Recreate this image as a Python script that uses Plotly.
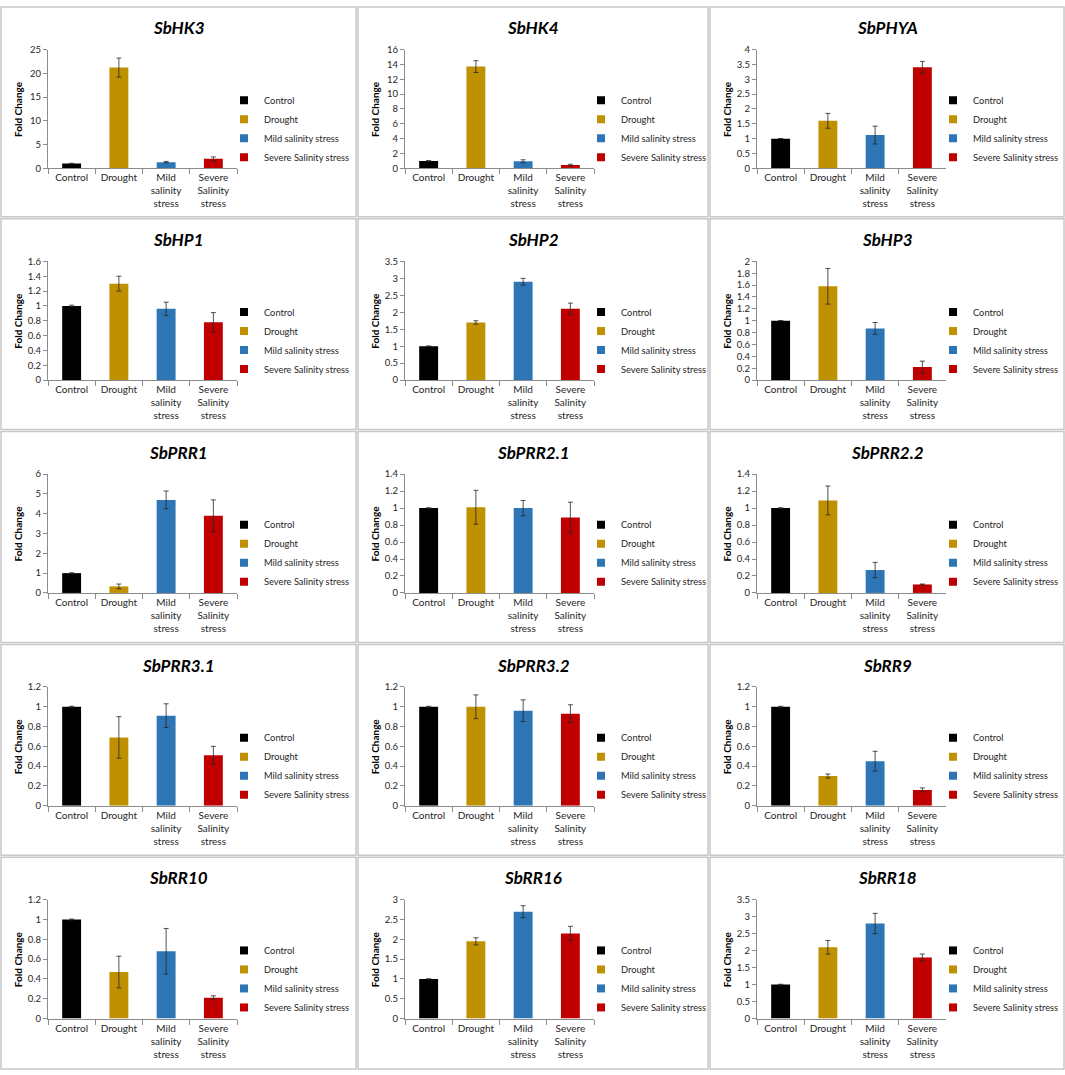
import plotly.graph_objects as go

W, H = 1065, 1075

categories = ["Control", "Drought", "Mild<br>salinity<br>stress", "Severe<br>Salinity<br>stress"]
treatments = ["Control", "Drought", "Mild salinity stress", "Severe Salinity stress"]
colors = ["#000000", "#BF9000", "#2E75B6", "#C00000"]

genes = ["SbHK3", "SbHK4", "SbPHYA",
         "SbHP1", "SbHP2", "SbHP3",
         "SbPRR1", "SbPRR2.1", "SbPRR2.2",
         "SbPRR3.1", "SbPRR3.2", "SbRR9",
         "SbRR10", "SbRR16", "SbRR18"]

# fold change per treatment (Control, Drought, Mild, Severe) and error bars
sbhk3 = [1.0, 21.2, 1.3, 2.0]
sbhk3_err = [0.05, 2.0, 0.15, 0.4]
sbhk4 = [1.0, 13.7, 0.95, 0.45]
sbhk4_err = [0.03, 0.8, 0.2, 0.1]
sbphya = [1.0, 1.6, 1.12, 3.4]
sbphya_err = [0.0, 0.25, 0.3, 0.2]
sbhp1 = [1.0, 1.3, 0.96, 0.78]
sbhp1_err = [0.01, 0.1, 0.09, 0.13]
sbhp2 = [1.0, 1.7, 2.9, 2.1]
sbhp2_err = [0.01, 0.05, 0.1, 0.17]
sbhp3 = [1.0, 1.58, 0.87, 0.22]
sbhp3_err = [0.0, 0.3, 0.1, 0.1]
sbprr1 = [1.0, 0.33, 4.7, 3.9]
sbprr1_err = [0.02, 0.12, 0.45, 0.8]
sbprr2_1 = [1.0, 1.01, 1.0, 0.89]
sbprr2_1_err = [0.005, 0.2, 0.09, 0.18]
sbprr2_2 = [1.0, 1.09, 0.27, 0.1]
sbprr2_2_err = [0.005, 0.17, 0.09, 0.005]
sbprr3_1 = [1.0, 0.69, 0.91, 0.51]
sbprr3_1_err = [0.005, 0.21, 0.12, 0.09]
sbprr3_2 = [1.0, 1.0, 0.96, 0.93]
sbprr3_2_err = [0.005, 0.12, 0.11, 0.09]
sbrr9 = [1.0, 0.3, 0.45, 0.16]
sbrr9_err = [0.005, 0.02, 0.1, 0.02]
sbrr10 = [1.0, 0.47, 0.68, 0.21]
sbrr10_err = [0.005, 0.16, 0.23, 0.02]
sbrr16 = [1.0, 1.95, 2.7, 2.15]
sbrr16_err = [0.0, 0.09, 0.15, 0.18]
sbrr18 = [1.0, 2.1, 2.8, 1.8]
sbrr18_err = [0.01, 0.2, 0.3, 0.1]

values = [sbhk3, sbhk4, sbphya, sbhp1, sbhp2, sbhp3, sbprr1, sbprr2_1, sbprr2_2,
          sbprr3_1, sbprr3_2, sbrr9, sbrr10, sbrr16, sbrr18]
errors = [sbhk3_err, sbhk4_err, sbphya_err, sbhp1_err, sbhp2_err, sbhp3_err, sbprr1_err,
          sbprr2_1_err, sbprr2_2_err, sbprr3_1_err, sbprr3_2_err, sbrr9_err, sbrr10_err,
          sbrr16_err, sbrr18_err]

# y axis top and tick step
y_max = [25, 16, 4, 1.6, 3.5, 2, 6, 1.4, 1.4, 1.2, 1.2, 1.2, 1.2, 3, 3.5]
y_step = [5, 2, 0.5, 0.2, 0.5, 0.2, 1, 0.2, 0.2, 0.2, 0.2, 0.2, 0.2, 0.5, 0.5]
y_titles = ["Fold Change"] * 15
y_titles[11] = "Fold Chnage"

col_edges = [0, 357, 709, 1065]
row_edges = [0, 214, 429, 644, 859, 1075]

FONT = "Lato, Open Sans, sans-serif"
AXIS_COLOR = "#8C8C8C"


def fx(px):
  return px / W


def fy(py):
  return 1 - py / H


fig = go.Figure()
layout = {}
shapes = []
annotations = []

for i, gene in enumerate(genes):
  r, c = divmod(i, 3)
  left, right = col_edges[c], col_edges[c + 1]
  top, bottom = row_edges[r], row_edges[r + 1]
  n = "" if i == 0 else str(i + 1)
  lg = "legend" + n

  for k in range(4):
    fig.add_trace(go.Bar(
      x=[categories[k]], y=[values[i][k]],
      error_y=dict(type="data", array=[errors[i][k]], color="#262626", thickness=0.8, width=2.5),
      marker=dict(color=colors[k], line=dict(width=0)),
      width=0.4, name=treatments[k], showlegend=False,
      xaxis="x" + n, yaxis="y" + n,
    ))
    # small square legend keys like the spreadsheet legend
    fig.add_trace(go.Scatter(
      x=[None], y=[None], mode="markers",
      marker=dict(symbol="square", size=8, color=colors[k]),
      name=treatments[k], xaxis="x" + n, yaxis="y" + n, legend=lg,
    ))

  layout["xaxis" + n] = dict(
    domain=[fx(left + 48), fx(left + 237)], anchor="y" + n,
    categoryorder="array", categoryarray=categories, range=[-0.5, 3.5],
    showline=True, linecolor=AXIS_COLOR, linewidth=1,
    ticks="outside", tickson="boundaries", ticklen=5, tickcolor=AXIS_COLOR,
    showgrid=False, zeroline=False,
    tickfont=dict(family=FONT, size=10, color="#262626"),
  )
  layout["yaxis" + n] = dict(
    domain=[fy(top + 164), fy(top + 44)], anchor="x" + n,
    range=[0, y_max[i]], dtick=y_step[i], tick0=0,
    showline=True, linecolor=AXIS_COLOR, linewidth=1,
    ticks="outside", ticklen=4, tickcolor=AXIS_COLOR,
    showgrid=False, zeroline=False,
    tickfont=dict(family=FONT, size=9.5, color="#262626"),
  )
  layout[lg] = dict(
    x=fx(left + 224), y=fy(top + 124), xanchor="left", yanchor="middle",
    font=dict(family=FONT, size=9.3, color="#262626"),
    bgcolor="rgba(0,0,0,0)", itemwidth=30,
  )

  shapes.append(dict(type="rect", xref="paper", yref="paper",
                     x0=fx(left + 1), x1=fx(right - 1), y0=fy(bottom - 1), y1=fy(top + 1),
                     line=dict(color="#C8C8C8", width=1.5)))
  annotations.append(dict(text="<b><i>%s</i></b>" % gene, xref="paper", yref="paper",
                          x=fx((left + right) / 2), y=fy(top + 22), showarrow=False,
                          xanchor="center", yanchor="middle",
                          font=dict(family=FONT, size=17, color="#000000")))
  annotations.append(dict(text="<b>%s</b>" % y_titles[i], xref="paper", yref="paper",
                          x=fx(left + 18), y=fy(top + 104), showarrow=False, textangle=-90,
                          xanchor="center", yanchor="middle",
                          font=dict(family=FONT, size=10, color="#000000")))

fig.update_layout(
  width=W, height=H,
  margin=dict(l=0, r=0, t=0, b=0),
  paper_bgcolor="white", plot_bgcolor="white",
  barmode="overlay",
  shapes=shapes, annotations=annotations,
  **layout,
)

fig.write_html("out.html", config={"displayModeBar": False},
               post_script="document.body.style.margin='0';")
